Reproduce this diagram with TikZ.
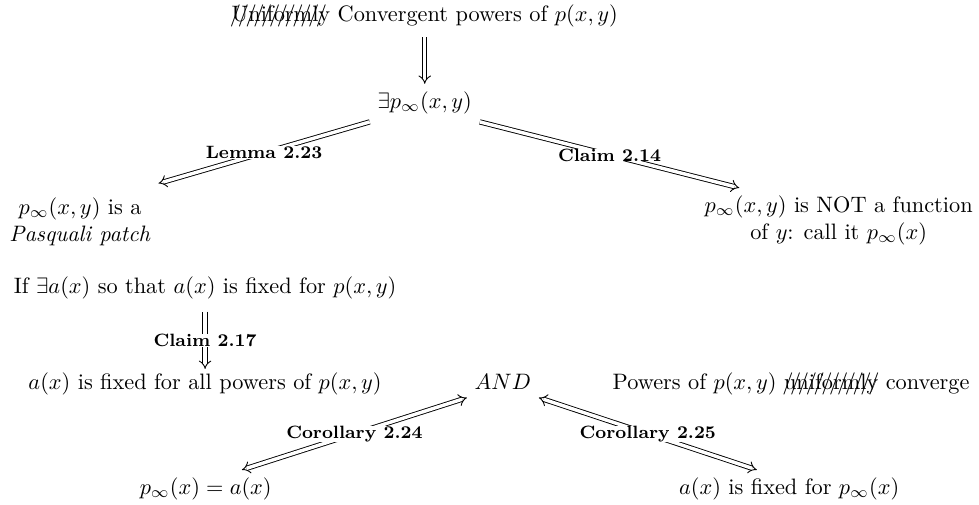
\documentclass[tikz,border=0pt]{standalone}
\usepackage{amssymb,amsmath}
\usetikzlibrary{arrows,positioning}
\newcommand{\slashword}[1]{\setbox0\hbox{#1}\rlap{\usebox0}\hbox to \wd0{\leaders\hbox to 0.35em{\hss/\hss}\hfill}}
\tikzset{imp/.style={double,double equal sign distance,-implies},
         bimp/.style={double,double equal sign distance,implies-implies},
         lbl/.style={font=\footnotesize\bfseries,fill=white,inner sep=0pt}}

\begin{document}
\begin{tikzpicture}
\useasboundingbox (0,0) rectangle (15.42,-7.94);

\node (conv) at (6.69,-0.25) {\slashword{Uniformly} Convergent powers of $p(x,y)$};
\node (pinfxy) at (6.69,-1.62) {$\exists p_\infty(x,y)$};
\node[align=center] (patch) at (1.26,-3.49) {$p_\infty(x,y)$ is a\\ \textit{Pasquali patch}};
\node[align=center] (notfn) at (13.21,-3.47) {$p_\infty(x,y)$ is NOT a function\\ of $y$: call it $p_\infty(x)$};
\node (ifa) at (3.23,-4.54) {If $\exists a(x)$ so that $a(x)$ is fixed for $p(x,y)$};
\node (fixall) at (3.23,-6.04) {$a(x)$ is fixed for all powers of $p(x,y)$};
\node (and) at (7.92,-6.02) {$AND$};
\node (unif) at (12.46,-6.04) {Powers of $p(x,y)$ \slashword{uniformly} converge};
\node (pinfa) at (3.24,-7.70) {$p_\infty(x)=a(x)$};
\node (fixp) at (12.43,-7.70) {$a(x)$ is fixed for $p_\infty(x)$};

\draw[imp] ([yshift=-1pt]conv.south -| pinfxy) -- (pinfxy);
\draw[imp] (pinfxy.south west) -- ([yshift=1mm]patch.north east)
  node[lbl,pos=0.5] {Lemma 2.23};
\draw[imp] (pinfxy.south east) -- ([xshift=0.67cm]notfn.north west)
  node[lbl,pos=0.5] {Claim 2.14};
\draw[imp] ([yshift=-2pt]ifa.south) -- ([yshift=-2pt]fixall.north)
  node[lbl,pos=0.5] {Claim 2.17};
\draw[bimp] (and.south west) -- ([xshift=0.57cm]pinfa.north)
  node[lbl,pos=0.5] {Corollary 2.24};
\draw[bimp] (and.south east) -- ([xshift=-0.51cm]fixp.north)
  node[lbl,pos=0.5] {Corollary 2.25};
\end{tikzpicture}
\end{document}
